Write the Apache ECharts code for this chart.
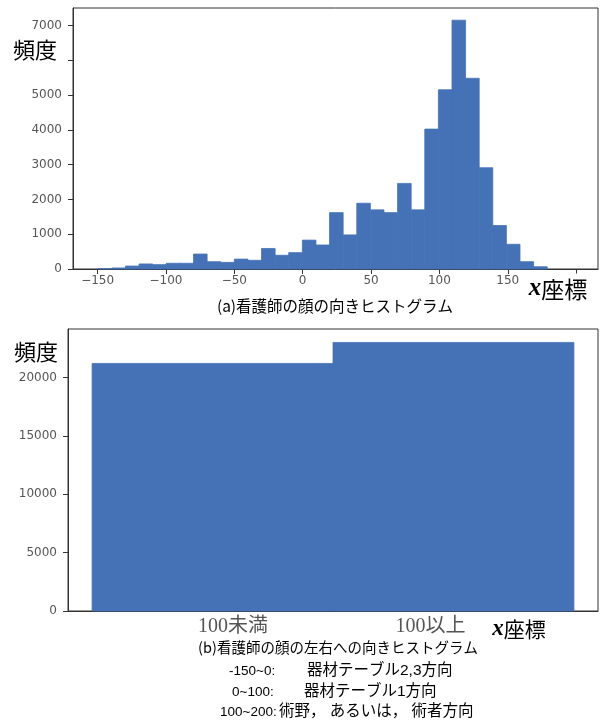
<!DOCTYPE html>
<html>
<head>
<meta charset="utf-8">
<script src="https://cdn.jsdelivr.net/npm/echarts@6/dist/echarts.min.js"></script>
<style>
  html, body { margin: 0; padding: 0; background: #fff; }
  #chart { width: 606px; height: 720px; }
</style>
</head>
<body>
<div id="chart"></div>
<script>
// (a) face direction histogram: equal-width bins along the x coordinate
const BIN_START = -149.5;
const BIN_WIDTH = 9.95;
const countsA = [
  10, 30, 85, 145, 125, 165, 165, 430, 210, 190,
  285, 250, 590, 395, 470, 830, 690, 1620, 980, 1890,
  1700, 1620, 2460, 1700, 4020, 5150, 7150, 5480, 2910, 1250,
  710, 210, 65
];
const xTicksA = [-150, -100, -50, 0, 50, 100, 150, 200];
const yTicksA = [0, 1000, 2000, 3000, 4000, 5000, 6000, 7000];

// (b) left/right split at x = 100
const categoriesB = ['100未満', '100以上'];
const countsB = [21200, 23000];
const yTicksB = [0, 5000, 10000, 15000, 20000];

// legend of direction ranges under the charts
const rangeLabels = ['-150~0:', '0~100:', '100~200:'];
const rangeTexts = ['器材テーブル2,3方向', '器材テーブル1方向', '術野， あるいは， 術者方向'];

const BAR_COLOR = '#4572b6';
const AXIS_COLOR = '#333';
const TICK_FONT = { color: '#555', fontFamily: 'DejaVu Sans', fontSize: 12, formatter: v => String(v).replace('-', '\u2212') };
const CJK = '"Noto Sans CJK JP", sans-serif';

const histA = countsA.map((c, i) => [BIN_START + i * BIN_WIDTH, BIN_START + (i + 1) * BIN_WIDTH, c]);
const histB = countsB.map((c, i) => [i, i + 1, c]);

function renderRect(params, api) {
  const p0 = api.coord([api.value(0), api.value(2)]);
  const p1 = api.coord([api.value(1), 0]);
  return {
    type: 'rect',
    shape: { x: p0[0], y: p0[1], width: p1[0] - p0[0], height: p1[1] - p0[1] },
    style: { fill: BAR_COLOR, stroke: BAR_COLOR, lineWidth: 0.8 }
  };
}

const axisLine = { show: true, onZero: false, lineStyle: { color: AXIS_COLOR, width: 1 } };

function labelText(text, x, y, size) {
  return {
    type: 'text', x: x, y: y, z: 100,
    style: { text: text, fill: '#000', font: size + 'px ' + CJK, align: 'center', verticalAlign: 'middle' }
  };
}

function xCoordLabel(x, y, size) {
  return {
    type: 'text', x: x, y: y, z: 100,
    style: {
      text: '{v|x}{k|座標}',
      align: 'center', verticalAlign: 'middle',
      backgroundColor: '#fff', padding: [3, 2, 3, 2],
      rich: {
        v: { fontFamily: '"Liberation Serif", serif', fontStyle: 'italic', fontWeight: 'bold', fontSize: size + 2, fill: '#000' },
        k: { fontFamily: CJK, fontSize: size, fill: '#000' }
      }
    }
  };
}

const graphics = [
  labelText('頻度', 36, 50, 22),
  xCoordLabel(558, 289, 23),
  labelText('(a)看護師の顔の向きヒストグラム', 335, 306, 15.5),
  labelText('頻度', 36, 352, 22),
  xCoordLabel(519, 629, 21),
  labelText('(b)看護師の顔の左右への向きヒストグラム', 338, 647, 14.5)
];
graphics[0].style.backgroundColor = '#fff';
graphics[0].style.padding = [3, 4, 6, 2];

const rangeX = [229, 232, 220];
const textX = [307, 304, 279];
const rowY = [671, 692, 712];
rangeLabels.forEach((t, i) => {
  graphics.push({
    type: 'text', x: rangeX[i], y: rowY[i], z: 100,
    style: { text: t, fill: '#000', font: '13.5px "Liberation Sans", ' + CJK, align: 'left', verticalAlign: 'middle' }
  });
  graphics.push({
    type: 'text', x: textX[i], y: rowY[i], z: 100,
    style: { text: rangeTexts[i], fill: '#000', font: '15.5px "Liberation Sans", ' + CJK, align: 'left', verticalAlign: 'middle' }
  });
});

const chart = echarts.init(document.getElementById('chart'), null, { renderer: 'canvas' });
chart.setOption({
  animation: false,
  backgroundColor: '#fff',
  grid: [
    { left: 73, top: 8, width: 525, height: 261, show: true, borderColor: AXIS_COLOR, borderWidth: 1 },
    { left: 68, top: 329, width: 530, height: 282, show: true, borderColor: AXIS_COLOR, borderWidth: 1 }
  ],
  xAxis: [
    {
      type: 'value', gridIndex: 0, min: -168, max: 216,
      axisLine: axisLine, splitLine: { show: false },
      axisTick: { show: true, length: 5, customValues: xTicksA, lineStyle: { color: AXIS_COLOR } },
      axisLabel: Object.assign({ customValues: xTicksA, margin: 6 }, TICK_FONT)
    },
    {
      type: 'value', gridIndex: 1, min: -0.1, max: 2.1,
      axisLine: axisLine, splitLine: { show: false },
      axisTick: { show: false },
      axisLabel: {
        customValues: [0.5, 1.5], margin: 6,
        formatter: v => (v < 1 ? '{l|' : '{r|') + categoriesB[Math.floor(v)] + '}',
        rich: {
          l: { fontFamily: '"Liberation Serif", ' + CJK, fontSize: 20, color: '#555', padding: [0, 0, 0, 41] },
          r: { fontFamily: '"Liberation Serif", ' + CJK, fontSize: 20, color: '#555', padding: [0, 46, 0, 0] }
        }
      }
    }
  ],
  yAxis: [
    {
      type: 'value', gridIndex: 0, min: 0, max: 7500,
      axisLine: axisLine, splitLine: { show: false },
      axisTick: { show: true, length: 5, customValues: yTicksA, lineStyle: { color: AXIS_COLOR } },
      axisLabel: Object.assign({ customValues: yTicksA, margin: 11 }, TICK_FONT)
    },
    {
      type: 'value', gridIndex: 1, min: 0, max: 24150,
      axisLine: axisLine, splitLine: { show: false },
      axisTick: { show: true, length: 5, customValues: yTicksB, lineStyle: { color: AXIS_COLOR } },
      axisLabel: Object.assign({ customValues: yTicksB, margin: 11 }, TICK_FONT)
    }
  ],
  series: [
    { type: 'custom', xAxisIndex: 0, yAxisIndex: 0, renderItem: renderRect, encode: { x: [0, 1], y: 2 }, data: histA },
    { type: 'custom', xAxisIndex: 1, yAxisIndex: 1, renderItem: renderRect, encode: { x: [0, 1], y: 2 }, data: histB }
  ],
  graphic: graphics
});
</script>
</body>
</html>
